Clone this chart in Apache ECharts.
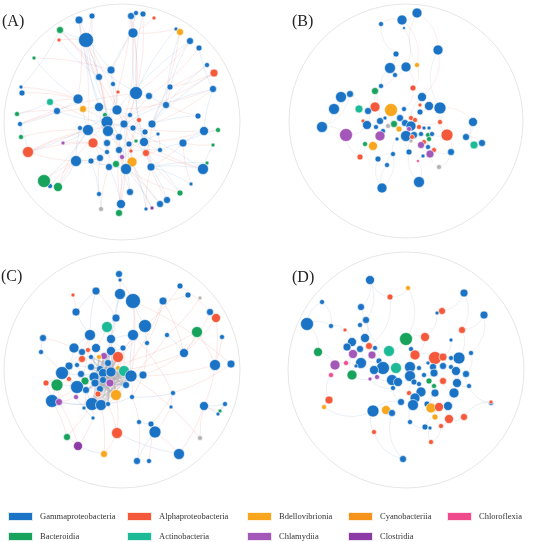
<!DOCTYPE html>
<html><head><meta charset="utf-8">
<script src="https://cdn.jsdelivr.net/npm/echarts@6/dist/echarts.min.js"></script>
<style>html,body{margin:0;padding:0;background:#fff}#c{width:550px;height:542px}</style>
</head><body><div id="c"></div>
<script>
// Taxonomic classes (legend order by column)
const classNames = ['Gammaproteobacteria','Alphaproteobacteria','Bdellovibrionia','Cyanobacteriia','Chloroflexia','Bacteroidia','Actinobacteria','Chlamydiia','Clostridia','Others'];
const classCodes = ['G','A','B','Y','F','D','T','C','L','O'];
const classColors = ['#1a73c5','#f4593b','#f8a61d','#f6931a','#ef4a8c','#17a35c','#1dba97','#a257b9','#8c3aa6','#b4b4b4'];
const panelLabels = ['(A)','(B)','(C)','(D)'];

// Nodes: [x, y, size, class] in panel-local layout units
const nodesA = [[79,20,8,'G'],[92,16,6,'G'],[131,16,7,'G'],[136,13,5,'G'],[143,14,6,'G'],[154,18,4,'A'],[176,29,4,'G'],[180,32,7,'B'],[190,41,7,'G'],[199,48,6,'G'],
[207,65,5,'G'],[214,73,8,'A'],[213,89,7,'G'],[198,116,6,'G'],[204,131,9,'G'],[218,130,5,'D'],[213,145,4,'D'],[207,163,4,'D'],[203,169,11,'G'],[191,184,4,'G'],
[180,193,6,'D'],[167,200,7,'G'],[160,204,7,'G'],[152,208,4,'L'],[146,209,4,'G'],[130,192,7,'G'],[121,204,9,'G'],[119,213,7,'D'],[101,209,5,'O'],[99,194,5,'G'],
[58,187,9,'D'],[50,186,5,'G'],[44,181,13,'D'],[28,152,11,'A'],[63,143,4,'C'],[21,137,5,'D'],[20,124,5,'G'],[17,114,5,'D'],[50,102,7,'T'],[57,111,7,'G'],
[22,93,6,'G'],[21,87,4,'G'],[34,58,4,'D'],[59,40,4,'A'],[60,30,7,'D'],[86,40,15,'G'],[133,33,10,'G'],[111,70,8,'G'],[99,77,7,'G'],[113,84,5,'G'],
[118,92,4,'A'],[136,93,13,'G'],[149,96,7,'G'],[170,87,6,'G'],[166,105,7,'G'],[78,99,10,'G'],[83,109,7,'B'],[99,107,9,'G'],[117,110,10,'G'],[105,115,5,'D'],
[130,115,5,'G'],[139,120,5,'A'],[107,122,12,'G'],[124,124,8,'G'],[108,131,11,'G'],[88,130,11,'G'],[80,128,5,'G'],[133,128,6,'G'],[152,124,8,'G'],[145,132,6,'G'],
[158,134,4,'G'],[119,137,7,'G'],[136,141,4,'D'],[144,142,9,'G'],[93,143,10,'A'],[107,143,7,'G'],[129,144,6,'G'],[119,150,7,'G'],[183,143,8,'G'],[160,150,5,'G'],
[131,151,4,'A'],[146,153,7,'A'],[107,152,5,'G'],[122,157,5,'C'],[100,158,7,'G'],[91,161,6,'G'],[76,161,11,'G'],[116,164,7,'D'],[132,162,10,'B'],[126,169,11,'G'],
[151,167,8,'G'],[109,167,7,'G']];
const edgesAPos = "45-62 45-58 0-55 2-51 7-68 11-53 12-68 14-73 18-73 20-89 22-88 26-77 25-71 30-65 32-86 33-74 33-65 36-57 38-55 40-55 42-47 44-48 46-51 47-58 48-62 51-63 52-60 53-54 56-62 57-64 58-67 59-71 60-73 61-76 62-77 63-88 64-89 65-84 66-75 67-80 68-81 69-90 70-79 72-83 74-87 75-91 76-89 78-90 79-81 80-87 82-85 84-86 85-91 86-33 29-84 27-89 24-90 21-81 19-78 17-18 16-78 15-14 13-54 10-53 9-52 8-51 6-46 5-46 3-47 1-45 4-51 43-45 41-55 37-39 35-65 34-74 31-86 23-88 28-91 45-64 46-63 0-65 2-62 11-62 12-58 14-62 18-64 20-58 26-51 30-62 33-63 36-51 38-64 44-63";
const edgesANeg = "45-57 0-47 1-48 2-46 3-46 4-51 6-51 7-54 8-53 9-12 10-68 11-68 12-14 13-68 14-78 15-78 16-18 17-90 18-90 19-90 20-81 21-90 22-89 23-89 24-88 25-89 26-91 27-26 28-29 29-85 30-86 31-32 32-65 33-36 34-65 35-36 36-39 37-38 38-39 39-55 40-41 41-44 42-55 43-48 44-45 46-47 47-49 49-58 50-58 51-52 52-54 53-68 54-68 55-56 56-65 57-58 58-60 59-62 60-63 61-67 62-64 63-67 64-71 65-66 66-86 67-69 68-70 69-73 70-73 71-75 72-76 73-81 74-82 75-82 76-77 77-83 78-79 79-80 80-88 81-88 82-84 83-87 84-85 85-86 86-87 87-89 88-89 89-91 90-81 62-88 51-73 57-75 63-71 45-71 46-73 0-62 8-62 12-63 18-62 26-63 33-58 39-62 44-51";

const nodesB = [[142,13,10,'G'],[127,20,10,'G'],[106,24,5,'G'],[129,28,3,'G'],[163,50,10,'G'],[121,54,6,'G'],[115,68,11,'G'],[131,67,10,'G'],[120,75,5,'G'],[142,65,5,'B'],
[106,86,5,'G'],[100,91,7,'D'],[138,88,6,'A'],[75,94,7,'G'],[66,97,11,'G'],[147,97,9,'G'],[145,105,4,'A'],[154,106,9,'G'],[165,108,12,'G'],[59,109,11,'G'],
[84,109,8,'T'],[100,107,10,'A'],[93,111,7,'G'],[116,110,13,'B'],[129,109,5,'G'],[145,112,6,'G'],[125,118,7,'G'],[88,121,4,'A'],[105,121,7,'G'],[110,118,4,'G'],
[119,124,7,'D'],[165,122,5,'A'],[198,122,9,'G'],[47,127,11,'G'],[92,125,9,'G'],[101,127,5,'G'],[113,126,5,'O'],[124,129,6,'B'],[130,123,7,'G'],[136,118,5,'A'],
[140,120,5,'A'],[136,126,10,'G'],[134,129,5,'C'],[144,127,5,'A'],[149,128,4,'G'],[154,128,4,'G'],[108,131,5,'G'],[71,135,13,'C'],[105,136,10,'C'],[131,136,11,'G'],
[139,135,7,'G'],[146,134,5,'G'],[137,137,5,'A'],[153,135,5,'D'],[157,134,5,'G'],[172,135,12,'A'],[191,137,7,'G'],[199,145,8,'T'],[207,143,7,'G'],[122,139,4,'G'],
[136,141,4,'O'],[149,142,5,'A'],[154,139,5,'D'],[146,145,7,'C'],[153,147,5,'G'],[90,144,5,'D'],[98,146,9,'B'],[134,152,6,'G'],[159,150,5,'A'],[155,154,8,'C'],
[148,156,4,'G'],[176,152,7,'G'],[118,154,5,'G'],[85,157,6,'A'],[103,159,6,'G'],[143,161,3,'F'],[164,167,5,'O'],[112,165,5,'G'],[144,182,11,'G'],[107,188,10,'G']];
const edgesBPos = "0-1 1-3 2-1 3-7 0-4 4-15 1-9 5-6 6-7 7-8 8-10 9-12 7-12 12-24 10-11 11-21 13-14 14-19 19-33 13-20 20-22 21-28 22-34 23-26 24-26 15-16 16-25 17-25 18-31 18-32 32-56 56-58 57-58 55-71 31-40 26-38 28-29 29-36 36-37 37-41 38-41 39-40 40-43 41-42 42-49 43-44 44-45";
const edgesBNeg = "45-54 49-50 50-51 51-53 52-60 53-62 54-55 59-49 60-67 61-63 62-64 63-69 64-68 68-71 69-70 70-75 67-78 72-77 74-79 77-79 73-65 65-66 66-48 47-33 47-34 48-46 46-35 35-34 27-34 30-36 30-26 49-67 69-76 76-71 5-8 6-10 2-5 23-30 59-72 72-74 33-13 47-73 10-21 78-75 79-72 4-18 0-9 15-41 18-55 32-57";

const nodesC = [[119,34,7,'G'],[120,40,4,'G'],[73,55,4,'A'],[96,51,8,'G'],[120,54,11,'G'],[133,61,15,'G'],[180,46,6,'G'],[188,55,6,'G'],[200,58,4,'O'],[163,61,8,'G'],
[76,72,8,'G'],[210,72,7,'G'],[216,78,9,'A'],[116,78,8,'G'],[107,87,11,'T'],[145,86,13,'G'],[197,92,11,'D'],[90,95,11,'G'],[133,95,11,'G'],[167,95,5,'G'],
[43,98,7,'G'],[222,97,5,'G'],[111,99,9,'G'],[147,103,5,'G'],[74,108,10,'G'],[96,108,9,'G'],[41,112,5,'G'],[88,110,5,'A'],[82,112,7,'G'],[111,111,9,'G'],
[123,108,6,'G'],[184,113,9,'G'],[118,117,11,'A'],[104,116,7,'C'],[99,117,5,'B'],[82,119,7,'A'],[91,117,5,'G'],[69,126,8,'G'],[62,133,13,'G'],[77,125,5,'G'],
[91,127,7,'G'],[100,129,7,'G'],[108,123,7,'G'],[118,128,5,'B'],[124,131,11,'T'],[131,136,12,'G'],[215,125,11,'G'],[231,124,8,'G'],[143,135,8,'G'],[81,134,7,'G'],
[94,137,10,'G'],[103,133,9,'G'],[111,132,10,'G'],[69,139,5,'A'],[85,141,8,'D'],[77,147,13,'G'],[46,143,6,'A'],[57,145,12,'D'],[95,143,8,'G'],[110,143,8,'C'],
[126,145,7,'G'],[103,140,7,'G'],[86,150,7,'G'],[100,149,7,'G'],[98,154,6,'A'],[116,155,11,'B'],[132,157,5,'G'],[76,157,5,'C'],[52,161,13,'G'],[59,162,7,'C'],
[92,164,13,'G'],[101,165,11,'G'],[108,164,5,'G'],[84,168,4,'G'],[173,153,5,'G'],[171,167,4,'G'],[204,166,9,'G'],[225,164,5,'G'],[220,171,4,'D'],[218,174,4,'G'],
[93,178,4,'G'],[139,182,5,'G'],[151,184,6,'G'],[155,192,12,'G'],[117,193,11,'A'],[200,198,5,'O'],[67,197,7,'D'],[78,206,9,'L'],[104,214,7,'B'],[179,214,11,'G'],
[137,221,7,'G'],[149,221,5,'G']];
const edgesCPos = "0-4 1-5 2-10 3-13 5-18 6-15 7-9 8-19 9-23 11-31 12-31 13-22 14-25 15-30 16-31 16-46 17-28 18-32 19-45 20-24 21-46 22-29 23-48 24-37 25-33 26-38 27-36 28-35 29-42 30-44 31-48 32-43 33-41 34-51 35-39 36-40 37-53 38-56 39-49 40-50 41-61 42-59 43-65 44-60 45-66 46-76 47-74 48-66 49-55 50-58 51-63 52-65 53-57 54-62 55-68 56-68 57-69 58-70 59-71 60-72 61-64 62-73 63-71 64-70 65-84 66-81 67-69 68-86 69-87 70-80 71-88 72-84 74-82 75-83 76-89 77-79 78-76 80-87 81-90 82-91 83-89 84-88 85-76 86-87 12-46 9-31 5-47 18-74 17-67 32-86 45-85 6-11 5-45 15-51 16-41 31-52 46-45 9-44";
const edgesCNeg = "0-1 3-10 4-13 5-15 10-17 13-14 14-22 15-23 17-24 18-22 20-26 22-30 24-28 25-27 28-37 29-32 30-33 31-19 32-44 33-34 35-37 36-41 37-38 38-55 39-40 40-41 41-42 42-52 43-44 44-45 45-48 49-50 50-51 51-52 52-59 53-55 54-58 55-57 57-68 58-61 59-60 60-65 61-63 62-70 63-64 64-65 66-74 67-73 69-70 70-71 71-72 72-66 73-80 74-75 76-77 77-78 79-76 81-82 82-83 83-90 84-89 87-88 45-52 44-51 32-41 29-50 42-61 33-58 3-17 18-45 4-29 13-42 25-50 38-51 55-63 68-70";
// dense core of panel C (grey web)
const edgesCCore = "32-50 32-58 32-63 32-70 44-50 44-58 44-63 44-70 45-50 45-58 45-63 45-71 52-58 52-63 52-70 52-40 59-41 59-40 59-50 59-36 42-58 42-63 42-70 29-58 29-63 29-41 60-41 60-50 60-58 60-42 65-41 65-50 65-42 65-29 51-60 51-44 51-45 61-45 61-44 41-45 40-44 36-45 50-65 58-65 63-44 70-45 71-44 71-52 72-52 72-42 64-44 64-52 62-52 62-44 33-63 33-70 34-58 34-64 43-58 43-63 43-50";

const nodesD = [[95,40,9,'G'],[133,48,5,'B'],[115,57,6,'A'],[47,62,5,'G'],[86,67,7,'G'],[189,53,8,'G'],[167,71,7,'A'],[162,73,4,'G'],[209,75,8,'G'],[32,84,13,'G'],
[56,86,5,'G'],[70,90,4,'A'],[91,80,7,'G'],[85,85,5,'G'],[187,90,7,'A'],[131,99,13,'D'],[150,97,9,'A'],[176,100,4,'G'],[90,98,9,'G'],[77,102,9,'G'],
[72,107,8,'G'],[94,106,7,'A'],[85,109,7,'G'],[100,108,5,'G'],[43,112,9,'D'],[114,111,11,'T'],[78,114,9,'C'],[97,115,8,'C'],[136,109,5,'G'],[140,115,10,'A'],
[160,118,13,'A'],[168,117,8,'A'],[184,118,12,'G'],[196,113,5,'G'],[176,118,5,'G'],[71,123,5,'F'],[60,125,10,'C'],[86,123,11,'G'],[104,121,6,'G'],[108,128,13,'G'],
[99,130,9,'G'],[121,128,11,'T'],[135,127,11,'G'],[144,128,5,'G'],[153,123,4,'G'],[158,127,7,'G'],[168,126,7,'G'],[176,127,5,'G'],[181,131,9,'G'],[81,126,4,'G'],
[56,135,5,'F'],[77,135,10,'D'],[102,137,5,'C'],[95,139,4,'C'],[117,140,11,'G'],[123,142,9,'G'],[135,136,11,'G'],[149,135,5,'G'],[159,133,8,'G'],[191,134,7,'G'],
[139,142,6,'G'],[144,144,5,'G'],[154,141,6,'D'],[159,146,5,'D'],[168,141,7,'A'],[182,143,9,'G'],[194,146,5,'G'],[118,148,5,'G'],[146,152,10,'G'],[160,153,8,'G'],
[179,153,10,'G'],[134,153,5,'A'],[140,158,10,'G'],[54,160,8,'A'],[126,162,7,'G'],[152,164,6,'G'],[138,165,11,'G'],[49,167,5,'B'],[156,168,10,'B'],[164,167,9,'A'],
[173,166,9,'G'],[216,163,5,'G'],[216,162,4,'A'],[98,171,12,'G'],[111,170,9,'B'],[117,173,7,'G'],[160,177,6,'B'],[174,179,9,'A'],[189,177,7,'A'],[135,182,5,'G'],
[150,187,6,'G'],[155,188,4,'G'],[166,186,5,'A'],[99,192,5,'A'],[156,202,5,'A'],[128,219,7,'G']];
const edgesDPos = "0-12 0-4 1-2 1-15 2-21 3-10 4-13 5-14 5-6 6-7 7-16 8-14 8-33 9-24 9-10 10-11 11-19 12-18 13-22 14-32 15-25 15-16 16-29 17-31 18-21 19-20 20-26 21-23 22-37 23-38 24-36 25-41 26-36 27-38 28-29 29-30 30-31 31-34 32-48 33-59 34-47 35-49 36-50 37-39 38-39 39-40 40-53 41-42 42-43 43-44 44-45 45-46 46-47 47-48 48-65";
const edgesDNeg = "49-51 50-73 51-52 52-54 53-67 54-55 55-56 56-60 57-58 58-62 59-66 60-61 61-68 62-63 63-69 64-70 65-66 66-81 67-74 68-72 69-75 70-80 71-72 72-76 73-77 74-83 75-79 76-89 77-83 78-79 79-86 80-87 81-82 82-88 83-93 84-85 85-95 86-90 87-88 89-90 90-91 91-94 92-87 93-95 94-92 3-9 0-2 12-25 26-51 41-54 57-45 60-71 30-64 69-78 35-36";

const panels = [
  {nodes: nodesA, pos: edgesAPos, neg: edgesANeg, core: '', curve: 0.08, posColor:'rgba(236,130,120,0.28)', negColor:'rgba(120,165,215,0.3)'},
  {nodes: nodesB, pos: edgesBPos, neg: edgesBNeg, core: '', curve: 0.3, posColor:'rgba(238,175,170,0.35)', negColor:'rgba(185,195,210,0.4)'},
  {nodes: nodesC, pos: edgesCPos, neg: edgesCNeg, core: edgesCCore, curve: 0.08, posColor:'rgba(236,130,120,0.3)', negColor:'rgba(120,150,200,0.3)'},
  {nodes: nodesD, pos: edgesDPos, neg: edgesDNeg, core: '', curve: 0.3, posColor:'rgba(200,205,220,0.5)', negColor:'rgba(175,195,220,0.45)'}
];

// Layout (pixels)
const panelBoxes = [[0,0],[275,0],[0,240],[275,240]];
const circles = [[122,122,118],[406,121,117],[122,370,118],[406,370,118]];
const labelPos = [[2,14],[292,14],[1,269],[292,270]];

const chart = echarts.init(document.getElementById('c'), null, {renderer:'canvas'});
const cats = classNames.map((n,i)=>({name:n, itemStyle:{color:classColors[i]}}));

function parseEdges(str, color, curve, width){
  if(!str) return [];
  return str.trim().split(/\s+/).map(s=>{
    const p = s.split('-').map(Number);
    return {source:p[0], target:p[1], lineStyle:{color:color, curveness:curve, width:width||0.6}};
  });
}

const grids=[], xAxes=[], yAxes=[], series=[], titles=[], graphics=[];
panels.forEach((p,k)=>{
  const [l,t] = panelBoxes[k];
  grids.push({left:l, top:t, width:275, height:240});
  xAxes.push({gridIndex:k, type:'value', min:0, max:275, show:false});
  yAxes.push({gridIndex:k, type:'value', min:0, max:240, inverse:true, show:false});
  const links = parseEdges(p.core, 'rgba(175,175,180,0.45)', 0, 1.6)
    .concat(parseEdges(p.pos, p.posColor, p.curve))
    .concat(parseEdges(p.neg, p.negColor, -p.curve));
  series.push({
    type:'graph', coordinateSystem:'cartesian2d', xAxisIndex:k, yAxisIndex:k,
    categories: cats, silent:true, animation:false,
    data: p.nodes.map(n=>({value:[n[0],n[1]], symbolSize:n[2], category:classCodes.indexOf(n[3])})),
    links: links,
    lineStyle:{width:0.6, opacity:1},
    itemStyle:{borderColor:'rgba(255,255,255,0.85)', borderWidth:0.7},
    label:{show:false}, emphasis:{disabled:true}
  });
  titles.push({text:panelLabels[k], left:labelPos[k][0], top:labelPos[k][1], padding:0,
    textStyle:{fontFamily:'Liberation Serif', fontWeight:'normal', fontSize:16, color:'#222'}});
  const c = circles[k];
  graphics.push({type:'circle', shape:{cx:c[0], cy:c[1], r:c[2]}, style:{fill:'none', stroke:'#e6e6e6', lineWidth:1}, z:-1, silent:true});
});

const legendCols = [
  [['Gammaproteobacteria','Bacteroidia'],7],
  [['Alphaproteobacteria','Actinobacteria'],126],
  [['Bdellovibrionia','Chlamydiia'],246],
  [['Cyanobacteriia','Clostridia'],347],
  [['Chloroflexia'],446]
];
const legends = legendCols.map(c=>({
  orient:'vertical', left:c[1], top:511, padding:0, itemGap:9, itemWidth:25, itemHeight:9,
  icon:'rect', selectedMode:false, data:c[0],
  textStyle:{fontFamily:'Liberation Serif', fontSize:8.5, color:'#333', padding:[0,0,0,2]}
}));

chart.setOption({
  animation:false,
  title: titles,
  grid: grids, xAxis: xAxes, yAxis: yAxes,
  legend: legends,
  graphic: graphics,
  series: series
});
</script></body></html>
